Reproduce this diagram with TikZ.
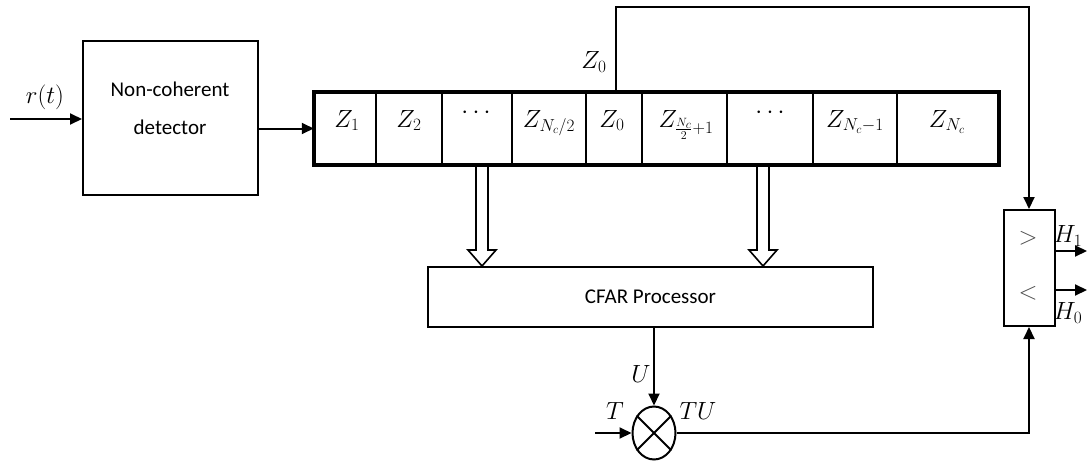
\documentclass[tikz,border=0pt]{standalone}
\usepackage{fontspec}
\setmainfont{Carlito}
\usetikzlibrary{arrows.meta,shapes.geometric,calc}
\begin{document}
\begin{tikzpicture}[x=1pt,y=-1pt,
  every node/.style={font=\fontsize{21}{25}\selectfont},
  blk/.style={draw,line width=2pt,inner sep=0pt},
  cell/.style={draw,line width=2.5pt,inner sep=0pt,minimum height=71pt},
  lbl/.style={inner sep=0pt},
  mlbl/.style={inner sep=0pt,font=\fontsize{23}{27}\selectfont},
  rel/.style={inner sep=0pt,text=black!70,font=\fontsize{26}{30}\selectfont},
  conn/.style={line width=2pt,-{Triangle[length=12pt,width=11pt]}},
  wire/.style={line width=2pt},
  hollow/.style={line width=1.6pt,line join=miter}
]
\useasboundingbox (0,0) rectangle (1088,461);

% detector
\node[blk,minimum width=175pt,minimum height=154pt] (det) at (170.5,118) {};
\node[lbl] (detA) at (170,89) {Non-coherent};
\node[lbl] (detB) at (170,127) {detector};

% CFAR
\node[blk,minimum width=445pt,minimum height=60pt] (cfar) at (650.5,297) {CFAR Processor};

% hollow double arrows
\coordinate (d1) at (482,164);
\coordinate (d2) at (763,164);
\foreach \d in {d1,d2}{
  \draw[hollow] ($(\d)+(-6,0)$) -- ($(\d|-cfar.north)+(-6,-16)$) -- ($(\d|-cfar.north)+(-14,-16)$)
    -- (\d|-cfar.north) -- ($(\d|-cfar.north)+(14,-16)$) -- ($(\d|-cfar.north)+(6,-16)$) -- ($(\d)+(6,0)$);
}

% register cells
\node[cell,minimum width=61pt] (c1) at (345.5,128.5) {};
\node[cell,minimum width=66pt] (c2) at (409,128.5) {};
\node[cell,minimum width=70pt] (c3) at (477,128.5) {};
\node[cell,minimum width=74pt] (c4) at (549,128.5) {};
\node[cell,minimum width=56pt] (c5) at (614,128.5) {};
\node[cell,minimum width=85pt] (c6) at (684.5,128.5) {};
\node[cell,minimum width=86pt] (c7) at (770,128.5) {};
\node[cell,minimum width=84pt] (c8) at (855,128.5) {};
\node[cell,minimum width=101pt] (c9) at (947.5,128.5) {};
\draw[line width=4pt] (c1.north west) rectangle (c9.south east);

\node[mlbl,anchor=base] (l1) at (347,127) {$Z_1$};
\node[mlbl,anchor=base] (l2) at (409,127) {$Z_2$};
\node[mlbl] (l3) at (476,113) {$\cdots$};
\node[mlbl,anchor=base] (l4) at (549,127) {$Z_{N_c/2}$};
\node[mlbl,anchor=base] (l5) at (612,127) {$Z_0$};
\node[mlbl,anchor=base] (l6) at (686,127) {$Z_{\frac{N_c}{2}+1}$};
\node[mlbl] (l7) at (770,113) {$\cdots$};
\node[mlbl,anchor=base] (l8) at (855,127) {$Z_{N_c-1}$};
\node[mlbl,anchor=base] (l9) at (947,127) {$Z_{N_c}$};

% comparator
\node[blk,minimum width=51pt,minimum height=116pt] (cmp) at (1029,268) {};
\node[rel] (gt) at (1028,238) {$>$};
\node[rel] (lt) at (1028,293) {$<$};

% multiplier
\node[draw,ellipse,line width=2pt,minimum width=43pt,minimum height=53pt,inner sep=0pt] (mult) at (654,433) {};
\draw[wire] (mult.45) -- (mult.225) (mult.135) -- (mult.315);

% connectors
\coordinate (rin) at (10,119);
\draw[conn] (rin) -- (rin -| det.west);
\draw[conn] (det.east |- c1.west) -- (c1.west);
\coordinate (topy) at (0,7);
\coordinate (z0) at ([xshift=2pt]c5.north);
\draw[conn] (z0) -- (z0 |- topy) -- (cmp.north |- topy) -- (cmp.north);
\draw[conn] (mult.north |- cfar.south) -- (mult.north);
\coordinate (tin) at (595,433);
\draw[conn] (tin) -- (mult.west);
\draw[conn] (mult.east) -| (cmp.south);
\coordinate (h1) at (1087,251);
\coordinate (h0) at (1087,290);
\draw[conn] (h1 -| cmp.east) -- (h1);
\draw[conn] (h0 -| cmp.east) -- (h0);

% labels
\node[mlbl] (rt) at (45,97) {$r(t)$};
\node[mlbl] (z0l) at (594,62) {$Z_0$};
\node[mlbl] (ul) at (641,374) {$U$};
\node[mlbl] (tl) at (615,411) {$T$};
\node[mlbl] (tul) at (698,411) {$TU$};
\node[mlbl] (h1l) at (1068,236) {$H_1$};
\node[mlbl] (h0l) at (1068,313) {$H_0$};
\end{tikzpicture}
\end{document}
